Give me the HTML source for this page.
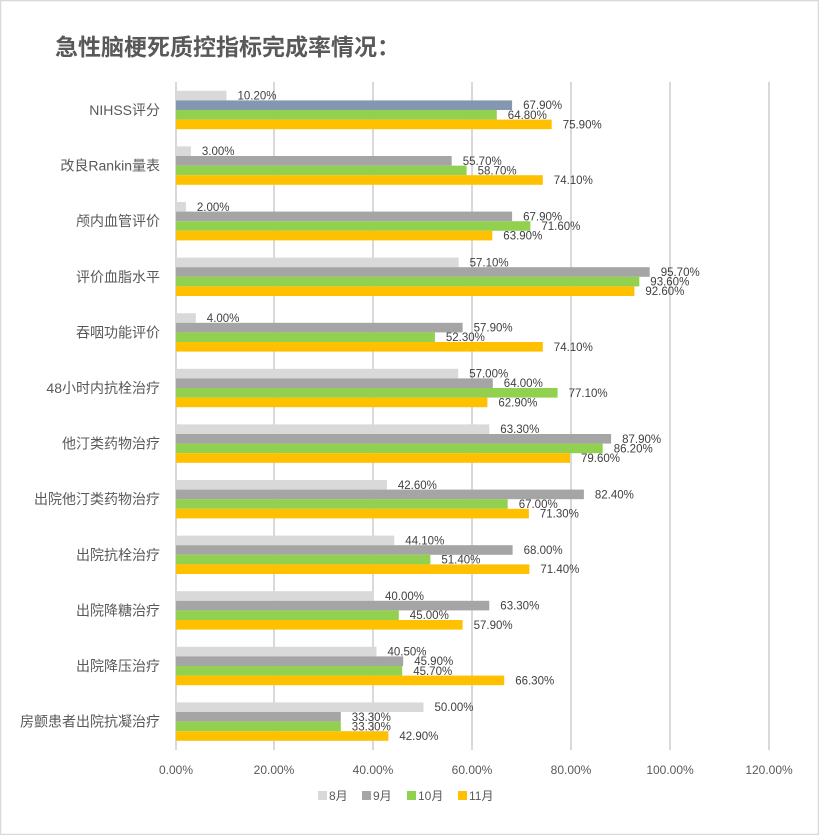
<!DOCTYPE html>
<html><head><meta charset="utf-8"><style>
html,body{margin:0;padding:0;background:#fff}
svg{display:block}
text{font-family:"Liberation Sans","Noto Sans CJK SC",sans-serif}
.c{font-size:14px;fill:#595959;text-anchor:end}
.l{font-size:11.5px;fill:#404040}
</style></head><body>
<svg width="819" height="835" viewBox="0 0 819 835" xmlns="http://www.w3.org/2000/svg">
<rect x="0.5" y="0.5" width="818" height="834" fill="#fff" stroke="#d9d9d9" stroke-width="1.5"/>
<text x="55" y="55" font-size="23" font-weight="bold" fill="#595959">急性脑梗死质控指标完成率情况：</text>
<g stroke="#d9d9d9" stroke-width="2">
<line x1="176" y1="82" x2="176" y2="750"/><line x1="274" y1="82" x2="274" y2="750"/><line x1="373" y1="82" x2="373" y2="750"/>
<line x1="472" y1="82" x2="472" y2="750"/><line x1="571" y1="82" x2="571" y2="750"/><line x1="670" y1="82" x2="670" y2="750"/><line x1="769" y1="82" x2="769" y2="750"/>
</g>

<g transform="translate(0,110)">
<text class="c" x="160" y="5">NIHSS评分</text>
<rect x="176" y="-19.2" width="50.5" height="9.6" fill="#d9d9d9"/><rect x="176" y="-9.6" width="336.1" height="9.6" fill="#8497b0"/><rect x="176" y="0" width="320.8" height="9.6" fill="#92d050"/><rect x="176" y="9.6" width="375.7" height="9.6" fill="#ffc000"/>
<text class="l" x="237.5" y="-10.4">10.20%</text><text class="l" x="523.1" y="-0.8">67.90%</text><text class="l" x="507.8" y="8.8">64.80%</text><text class="l" x="562.7" y="18.4">75.90%</text>
</g>
<g transform="translate(0,165.6)">
<text class="c" x="160" y="5">改良Rankin量表</text>
<rect x="176" y="-19.2" width="14.9" height="9.6" fill="#d9d9d9"/><rect x="176" y="-9.6" width="275.7" height="9.6" fill="#a5a5a5"/><rect x="176" y="0" width="290.6" height="9.6" fill="#92d050"/><rect x="176" y="9.6" width="366.8" height="9.6" fill="#ffc000"/>
<text class="l" x="201.9" y="-10.4">3.00%</text><text class="l" x="462.7" y="-0.8">55.70%</text><text class="l" x="477.6" y="8.8">58.70%</text><text class="l" x="553.8" y="18.4">74.10%</text>
</g>
<g transform="translate(0,221.2)">
<text class="c" x="160" y="5">颅内血管评价</text>
<rect x="176" y="-19.2" width="9.9" height="9.6" fill="#d9d9d9"/><rect x="176" y="-9.6" width="336.1" height="9.6" fill="#a5a5a5"/><rect x="176" y="0" width="354.4" height="9.6" fill="#92d050"/><rect x="176" y="9.6" width="316.3" height="9.6" fill="#ffc000"/>
<text class="l" x="196.9" y="-10.4">2.00%</text><text class="l" x="523.1" y="-0.8">67.90%</text><text class="l" x="541.4" y="8.8">71.60%</text><text class="l" x="503.3" y="18.4">63.90%</text>
</g>
<g transform="translate(0,276.8)">
<text class="c" x="160" y="5">评价血脂水平</text>
<rect x="176" y="-19.2" width="282.6" height="9.6" fill="#d9d9d9"/><rect x="176" y="-9.6" width="473.7" height="9.6" fill="#a5a5a5"/><rect x="176" y="0" width="463.3" height="9.6" fill="#92d050"/><rect x="176" y="9.6" width="458.4" height="9.6" fill="#ffc000"/>
<text class="l" x="469.6" y="-10.4">57.10%</text><text class="l" x="660.7" y="-0.8">95.70%</text><text class="l" x="650.3" y="8.8">93.60%</text><text class="l" x="645.4" y="18.4">92.60%</text>
</g>
<g transform="translate(0,332.4)">
<text class="c" x="160" y="5">吞咽功能评价</text>
<rect x="176" y="-19.2" width="19.8" height="9.6" fill="#d9d9d9"/><rect x="176" y="-9.6" width="286.6" height="9.6" fill="#a5a5a5"/><rect x="176" y="0" width="258.9" height="9.6" fill="#92d050"/><rect x="176" y="9.6" width="366.8" height="9.6" fill="#ffc000"/>
<text class="l" x="206.8" y="-10.4">4.00%</text><text class="l" x="473.6" y="-0.8">57.90%</text><text class="l" x="445.9" y="8.8">52.30%</text><text class="l" x="553.8" y="18.4">74.10%</text>
</g>
<g transform="translate(0,388)">
<text class="c" x="160" y="5">48小时内抗栓治疗</text>
<rect x="176" y="-19.2" width="282.2" height="9.6" fill="#d9d9d9"/><rect x="176" y="-9.6" width="316.8" height="9.6" fill="#a5a5a5"/><rect x="176" y="0" width="381.6" height="9.6" fill="#92d050"/><rect x="176" y="9.6" width="311.4" height="9.6" fill="#ffc000"/>
<text class="l" x="469.2" y="-10.4">57.00%</text><text class="l" x="503.8" y="-0.8">64.00%</text><text class="l" x="568.6" y="8.8">77.10%</text><text class="l" x="498.4" y="18.4">62.90%</text>
</g>
<g transform="translate(0,443.6)">
<text class="c" x="160" y="5">他汀类药物治疗</text>
<rect x="176" y="-19.2" width="313.3" height="9.6" fill="#d9d9d9"/><rect x="176" y="-9.6" width="435.1" height="9.6" fill="#a5a5a5"/><rect x="176" y="0" width="426.7" height="9.6" fill="#92d050"/><rect x="176" y="9.6" width="394" height="9.6" fill="#ffc000"/>
<text class="l" x="500.3" y="-10.4">63.30%</text><text class="l" x="622.1" y="-0.8">87.90%</text><text class="l" x="613.7" y="8.8">86.20%</text><text class="l" x="581" y="18.4">79.60%</text>
</g>
<g transform="translate(0,499.2)">
<text class="c" x="160" y="5">出院他汀类药物治疗</text>
<rect x="176" y="-19.2" width="210.9" height="9.6" fill="#d9d9d9"/><rect x="176" y="-9.6" width="407.9" height="9.6" fill="#a5a5a5"/><rect x="176" y="0" width="331.7" height="9.6" fill="#92d050"/><rect x="176" y="9.6" width="352.9" height="9.6" fill="#ffc000"/>
<text class="l" x="397.9" y="-10.4">42.60%</text><text class="l" x="594.9" y="-0.8">82.40%</text><text class="l" x="518.7" y="8.8">67.00%</text><text class="l" x="539.9" y="18.4">71.30%</text>
</g>
<g transform="translate(0,554.8)">
<text class="c" x="160" y="5">出院抗栓治疗</text>
<rect x="176" y="-19.2" width="218.3" height="9.6" fill="#d9d9d9"/><rect x="176" y="-9.6" width="336.6" height="9.6" fill="#a5a5a5"/><rect x="176" y="0" width="254.4" height="9.6" fill="#92d050"/><rect x="176" y="9.6" width="353.4" height="9.6" fill="#ffc000"/>
<text class="l" x="405.3" y="-10.4">44.10%</text><text class="l" x="523.6" y="-0.8">68.00%</text><text class="l" x="441.4" y="8.8">51.40%</text><text class="l" x="540.4" y="18.4">71.40%</text>
</g>
<g transform="translate(0,610.4)">
<text class="c" x="160" y="5">出院降糖治疗</text>
<rect x="176" y="-19.2" width="198" height="9.6" fill="#d9d9d9"/><rect x="176" y="-9.6" width="313.3" height="9.6" fill="#a5a5a5"/><rect x="176" y="0" width="222.8" height="9.6" fill="#92d050"/><rect x="176" y="9.6" width="286.6" height="9.6" fill="#ffc000"/>
<text class="l" x="385" y="-10.4">40.00%</text><text class="l" x="500.3" y="-0.8">63.30%</text><text class="l" x="409.8" y="8.8">45.00%</text><text class="l" x="473.6" y="18.4">57.90%</text>
</g>
<g transform="translate(0,666)">
<text class="c" x="160" y="5">出院降压治疗</text>
<rect x="176" y="-19.2" width="200.5" height="9.6" fill="#d9d9d9"/><rect x="176" y="-9.6" width="227.2" height="9.6" fill="#a5a5a5"/><rect x="176" y="0" width="226.2" height="9.6" fill="#92d050"/><rect x="176" y="9.6" width="328.2" height="9.6" fill="#ffc000"/>
<text class="l" x="387.5" y="-10.4">40.50%</text><text class="l" x="414.2" y="-0.8">45.90%</text><text class="l" x="413.2" y="8.8">45.70%</text><text class="l" x="515.2" y="18.4">66.30%</text>
</g>
<g transform="translate(0,721.6)">
<text class="c" x="160" y="5">房颤患者出院抗凝治疗</text>
<rect x="176" y="-19.2" width="247.5" height="9.6" fill="#d9d9d9"/><rect x="176" y="-9.6" width="164.8" height="9.6" fill="#a5a5a5"/><rect x="176" y="0" width="164.8" height="9.6" fill="#92d050"/><rect x="176" y="9.6" width="212.4" height="9.6" fill="#ffc000"/>
<text class="l" x="434.5" y="-10.4">50.00%</text><text class="l" x="351.8" y="-0.8">33.30%</text><text class="l" x="351.8" y="8.8">33.30%</text><text class="l" x="399.4" y="18.4">42.90%</text>
</g>

<g font-size="12" fill="#595959" text-anchor="middle">
<text x="176" y="774">0.00%</text><text x="274" y="774">20.00%</text><text x="373" y="774">40.00%</text>
<text x="472" y="774">60.00%</text><text x="571" y="774">80.00%</text><text x="670" y="774">100.00%</text><text x="769" y="774">120.00%</text>
</g>
<g font-size="12" fill="#595959">
<rect x="318" y="791" width="9" height="9" fill="#d9d9d9"/><text x="329" y="800">8月</text>
<rect x="362" y="791" width="9" height="9" fill="#a5a5a5"/><text x="373" y="800">9月</text>
<rect x="407" y="791" width="9" height="9" fill="#92d050"/><text x="418" y="800">10月</text>
<rect x="458" y="791" width="9" height="9" fill="#ffc000"/><text x="469" y="800">11月</text>
</g>
</svg>
</body></html>
